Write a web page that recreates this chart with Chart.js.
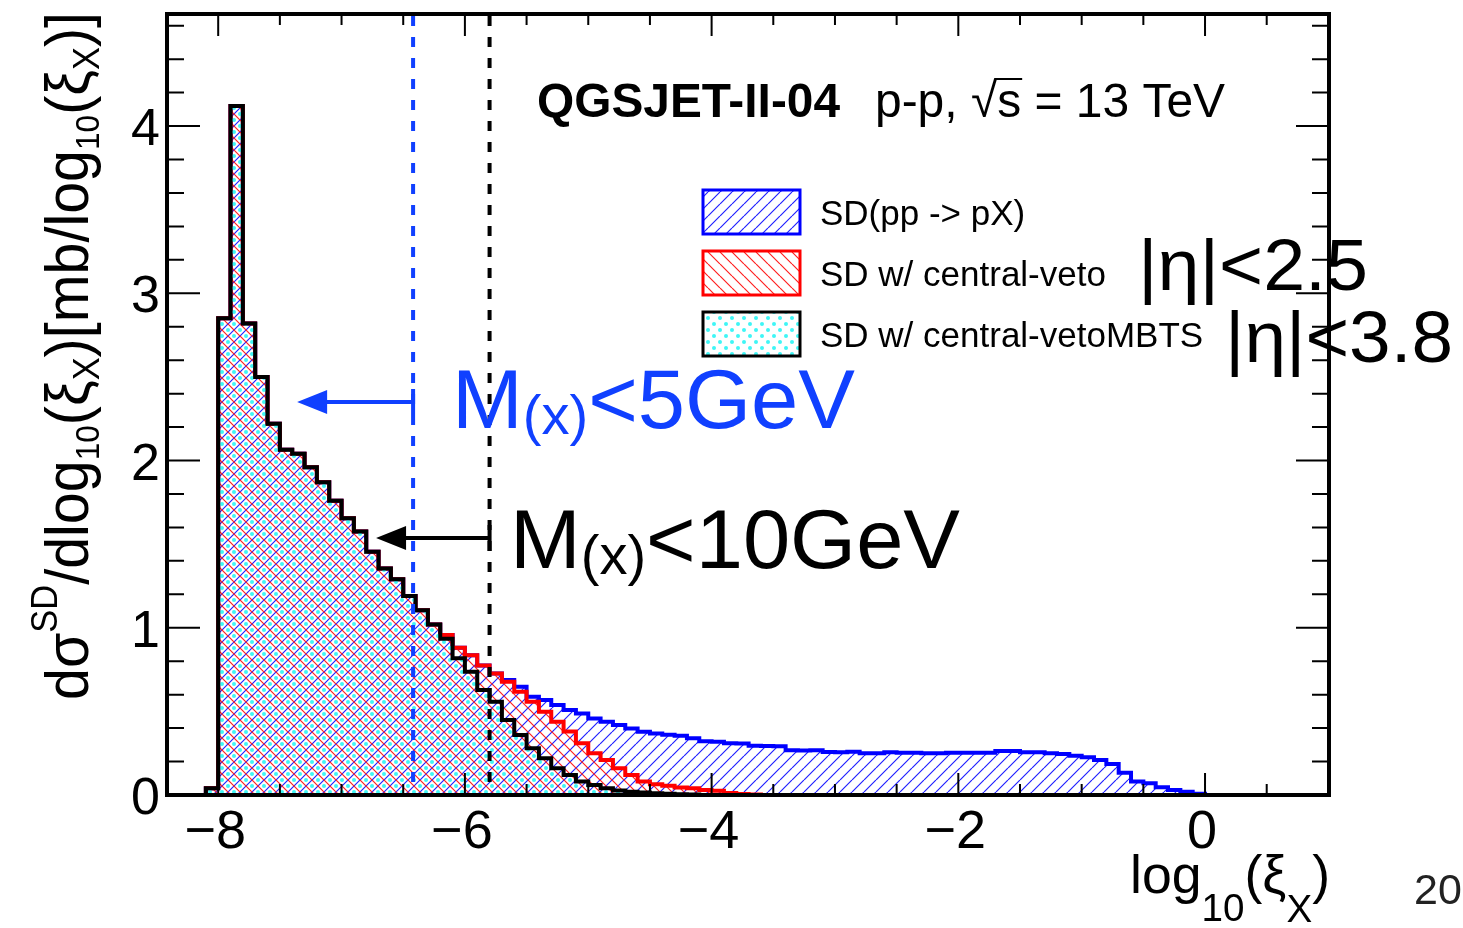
<!DOCTYPE html>
<html>
<head>
<meta charset="utf-8">
<script src="https://cdn.jsdelivr.net/npm/chart.js@4.4.0/dist/chart.umd.min.js"></script>
<style>
  html, body { margin: 0; padding: 0; background: #fff; }
  canvas { display: block; }
</style>
</head>
<body>
<canvas id="c" width="1463" height="928"></canvas>
<script>
// histogram binning (left edge of first bin, bin width in log10(xi))
const binStart = -8.4;
const binWidth = 0.1;

// SD(pp -> pX), one value per bin from -8.4
const sdAll = [
  0, 0, 0, 0.04, 2.85, 4.12, 2.82, 2.50, 2.22, 2.065,
  2.04, 1.96, 1.87, 1.76, 1.655, 1.575, 1.455, 1.355, 1.29, 1.19,
  1.105, 1.02, 0.956, 0.88, 0.835, 0.775, 0.727, 0.687, 0.647, 0.588,
  0.568, 0.538, 0.508, 0.488, 0.458, 0.438, 0.418, 0.398, 0.378, 0.368,
  0.36, 0.355, 0.339, 0.322, 0.318, 0.31, 0.308, 0.295, 0.293, 0.292,
  0.268, 0.266, 0.268, 0.257, 0.255, 0.258, 0.25, 0.249, 0.255, 0.252,
  0.252, 0.25, 0.25, 0.252, 0.253, 0.253, 0.253, 0.263, 0.263, 0.255,
  0.255, 0.25, 0.245, 0.235, 0.225, 0.209, 0.185, 0.133, 0.08, 0.07,
  0.046, 0.03, 0.02, 0.008, 0, 0, 0, 0, 0, 0,
  0, 0, 0, 0
];

// SD w/ central-veto (|eta|<2.5)
const sdVeto = [
  0, 0, 0, 0.04, 2.85, 4.12, 2.82, 2.50, 2.22, 2.065,
  2.04, 1.96, 1.87, 1.76, 1.655, 1.575, 1.455, 1.355, 1.29, 1.19,
  1.105, 1.02, 0.956, 0.88, 0.835, 0.775, 0.727, 0.677, 0.618, 0.558,
  0.498, 0.438, 0.379, 0.309, 0.249, 0.209, 0.16, 0.12, 0.08, 0.065,
  0.055, 0.045, 0.04, 0.03, 0.025, 0.012, 0.006, 0.003, 0, 0
];

// SD w/ central-vetoMBTS (|eta|<3.8)
const sdVetoMBTS = [
  0, 0, 0, 0.04, 2.85, 4.12, 2.82, 2.50, 2.22, 2.065,
  2.04, 1.96, 1.87, 1.76, 1.655, 1.575, 1.455, 1.355, 1.29, 1.19,
  1.105, 1.02, 0.935, 0.817, 0.737, 0.628, 0.558, 0.448, 0.359, 0.279,
  0.219, 0.16, 0.12, 0.08, 0.06, 0.04, 0.027, 0.02, 0.015, 0.01,
  0.008, 0.005, 0.003, 0, 0, 0, 0, 0, 0, 0
];

const seriesNames = ['SD(pp -> pX)', 'SD w/ central-veto', 'SD w/ central-vetoMBTS'];
const xTickValues = [-8, -6, -4, -2, 0];
const yTickValues = [0, 1, 2, 3, 4];

// mass cuts, arrows (log10(xi) positions)
const massCut5 = -6.42;
const massCut10 = -5.80;
const arrow5 = { from: -6.42, to: -7.36, y: 2.35 };
const arrow10 = { from: -5.80, to: -6.72, y: 1.536 };

const FONT = '"Liberation Sans", Arial, Helvetica, sans-serif';
const ANNOT_BLUE = '#1040ff';
const TILE = 12;

function toSteps(values) {
  const pts = values.map((v, i) => ({ x: +(binStart + i * binWidth).toFixed(2), y: v }));
  pts.push({ x: +(binStart + values.length * binWidth).toFixed(2), y: 0 });
  return pts;
}

function hatch(color, slash) {
  const c = document.createElement('canvas');
  c.width = c.height = TILE;
  const g = c.getContext('2d');
  g.strokeStyle = color;
  g.lineWidth = 1.2;
  g.beginPath();
  for (let k = -1; k <= 1; k++) {
    if (slash) {
      g.moveTo(k * TILE, TILE);
      g.lineTo(k * TILE + TILE, 0);
    } else {
      g.moveTo(k * TILE, 0);
      g.lineTo(k * TILE + TILE, TILE);
    }
  }
  g.stroke();
  return g.createPattern(c, 'repeat');
}

// dots sit in the middle of the cross-hatch cells
function dots(color) {
  const c = document.createElement('canvas');
  c.width = c.height = TILE;
  const g = c.getContext('2d');
  g.fillStyle = color;
  const h = TILE / 2;
  [[h, 0], [h, TILE], [0, h], [TILE, h]].forEach(([x, y]) => {
    g.beginPath();
    g.arc(x, y, 2, 0, Math.PI * 2);
    g.fill();
  });
  return g.createPattern(c, 'repeat');
}

const patBlue = hatch('#2222ff', true);
const patRed = hatch('#ff2020', false);
const patCyan = dots('#3ff6f6');

// text with sub/superscript parts: [text, sizeFactor, dyFactor]
function richText(ctx, parts, x, y, o) {
  const F = o.size;
  const weight = o.bold ? 'bold ' : '';
  const w = parts.map(p => {
    ctx.font = weight + (p[1] * F) + 'px ' + FONT;
    return ctx.measureText(p[0]).width;
  });
  const total = w.reduce((s, v) => s + v, 0);
  const sx = o.fit ? o.fit / total : 1;
  ctx.save();
  ctx.translate(x, y);
  if (o.rot) ctx.rotate(o.rot);
  ctx.scale(sx, 1);
  ctx.fillStyle = o.color || '#000';
  ctx.textAlign = 'left';
  ctx.textBaseline = 'alphabetic';
  let cx = o.align === 'right' ? -total : o.align === 'center' ? -total / 2 : 0;
  const starts = [];
  parts.forEach((p, i) => {
    ctx.font = weight + (p[1] * F) + 'px ' + FONT;
    starts.push(cx);
    ctx.fillText(p[0], cx, (p[2] || 0) * F);
    cx += w[i];
  });
  ctx.restore();
  return { sx, starts, widths: w, total };
}

function drawArrow(ctx, xs, ys, a, color, headLen, headHalf) {
  const x0 = xs.getPixelForValue(a.from);
  const x1 = xs.getPixelForValue(a.to);
  const yp = ys.getPixelForValue(a.y);
  ctx.save();
  ctx.strokeStyle = color;
  ctx.fillStyle = color;
  ctx.lineWidth = 4;
  ctx.beginPath();
  ctx.moveTo(x0, yp);
  ctx.lineTo(x1 + headLen - 2, yp);
  ctx.moveTo(x0, yp - 13);
  ctx.lineTo(x0, yp + 13);
  ctx.stroke();
  ctx.beginPath();
  ctx.moveTo(x1, yp);
  ctx.lineTo(x1 + headLen, yp - headHalf);
  ctx.lineTo(x1 + headLen, yp + headHalf);
  ctx.closePath();
  ctx.fill();
  ctx.restore();
}

const rootDecor = {
  id: 'rootDecor',
  afterDatasetsDraw(chart) {
    const { ctx, chartArea: a, scales: { x: xs, y: ys } } = chart;

    // dashed mass-cut lines
    [[massCut5, ANNOT_BLUE], [massCut10, '#000']].forEach(([v, col]) => {
      const px = xs.getPixelForValue(v);
      ctx.save();
      ctx.strokeStyle = col;
      ctx.lineWidth = 4;
      ctx.setLineDash([10, 11]);
      ctx.beginPath();
      ctx.moveTo(px, a.top + 2);
      ctx.lineTo(px, a.bottom);
      ctx.stroke();
      ctx.restore();
    });

    drawArrow(ctx, xs, ys, arrow5, ANNOT_BLUE, 30, 12);
    drawArrow(ctx, xs, ys, arrow10, '#000', 30, 12);

    // frame + inside ticks (ROOT style)
    ctx.save();
    ctx.strokeStyle = '#000';
    ctx.lineWidth = 2;
    ctx.beginPath();
    for (let k = 0; k * 0.2 <= ys.max + 1e-9; k++) {
      const py = ys.getPixelForValue(k * 0.2);
      const len = k % 5 === 0 ? 33 : 17;
      ctx.moveTo(a.left, py); ctx.lineTo(a.left + len, py);
      ctx.moveTo(a.right, py); ctx.lineTo(a.right - len, py);
    }
    for (let k = -17; k * 0.5 <= xs.max; k++) {
      const v = k * 0.5;
      if (v < xs.min) continue;
      const px = xs.getPixelForValue(v);
      const len = k % 4 === 0 ? 22 : 11;
      ctx.moveTo(px, a.bottom); ctx.lineTo(px, a.bottom - len);
      ctx.moveTo(px, a.top); ctx.lineTo(px, a.top + len);
    }
    ctx.stroke();
    ctx.lineWidth = 4;
    ctx.strokeRect(a.left, a.top, a.right - a.left, a.bottom - a.top);
    ctx.restore();

    // tick labels
    ctx.save();
    ctx.fillStyle = '#000';
    ctx.font = '52px ' + FONT;
    ctx.textAlign = 'right';
    ctx.textBaseline = 'alphabetic';
    yTickValues.forEach(v => {
      ctx.fillText(String(v), a.left - 7, ys.getPixelForValue(v) + 19);
    });
    ctx.textAlign = 'center';
    ctx.font = '54px ' + FONT;
    xTickValues.forEach(v => {
      const t = v < 0 ? '\u2212' + Math.abs(v) : String(v);
      ctx.fillText(t, xs.getPixelForValue(v) - 3, 848);
    });
    ctx.restore();

    // axis titles
    richText(ctx, [
      ['d\u03c3', 1, 0], ['SD', 0.6, -0.5], ['/dlog', 1, 0], ['10', 0.55, 0.18],
      ['(\u03be', 1, 0], ['X', 0.6, 0.18], [')[mb/log', 1, 0], ['10', 0.55, 0.18],
      ['(\u03be', 1, 0], ['X', 0.6, 0.18], [')]', 1, 0]
    ], 88, 356, { size: 62, rot: -Math.PI / 2, align: 'center', fit: 688 });

    richText(ctx, [
      ['log', 1, 0], ['10', 0.72, 0.52], ['(\u03be', 1, 0], ['X', 0.72, 0.55], [')', 1, 0]
    ], 1330, 893, { size: 53, align: 'right', fit: 200 });

    // page number
    ctx.save();
    ctx.fillStyle = '#222';
    ctx.font = '43px ' + FONT;
    ctx.textAlign = 'left';
    ctx.fillText('20', 1414, 904);
    ctx.restore();

    // header
    richText(ctx, [['QGSJET-II-04', 1, 0]], 537, 117, { size: 48, bold: true, fit: 303 });
    const hdr = richText(ctx, [['p-p, \u221a', 1, 0], ['s', 1, 0], [' = 13 TeV', 1, 0]],
      875, 117, { size: 49, fit: 350 });
    ctx.save();
    ctx.strokeStyle = '#000';
    ctx.lineWidth = 2;
    ctx.beginPath();
    const sx0 = 875 + hdr.starts[1] * hdr.sx - 2;
    const sx1 = 875 + (hdr.starts[1] + hdr.widths[1]) * hdr.sx + 1;
    ctx.moveTo(sx0, 117 - 38);
    ctx.lineTo(sx1, 117 - 38);
    ctx.stroke();
    ctx.restore();

    // legend
    const boxes = [[patBlue, '#0000ff', 190], [patRed, '#ff0000', 251], [patCyan, '#000', 312]];
    boxes.forEach(([pat, col, top], i) => {
      ctx.save();
      ctx.fillStyle = pat;
      ctx.fillRect(703, top, 97, 44);
      ctx.strokeStyle = col;
      ctx.lineWidth = 3;
      ctx.strokeRect(703, top, 97, 44);
      ctx.fillStyle = '#000';
      ctx.font = '35px ' + FONT;
      ctx.textAlign = 'left';
      ctx.textBaseline = 'alphabetic';
      ctx.fillText(seriesNames[i], 820, top + 35);
      ctx.restore();
    });

    // eta ranges
    richText(ctx, [['|\u03b7|<2.5', 1, 0]], 1138, 290, { size: 72, fit: 230 });
    richText(ctx, [['|\u03b7|<3.8', 1, 0]], 1225, 362, { size: 72, fit: 228 });

    // mass-cut labels
    richText(ctx, [['M', 1, 0], ['(x)', 0.66, 0.07], ['<5GeV', 1, 0]], 452, 428,
      { size: 84, color: ANNOT_BLUE, fit: 403 });
    richText(ctx, [['M', 1, 0], ['(x)', 0.66, 0.07], ['<10GeV', 1, 0]], 510, 568,
      { size: 84, fit: 450 });
  }
};

const ctx = document.getElementById('c').getContext('2d');
new Chart(ctx, {
  type: 'line',
  data: {
    datasets: [
      {
        label: seriesNames[2], data: toSteps(sdVetoMBTS), order: 1,
        borderColor: '#000', backgroundColor: patCyan, fill: 'origin'
      },
      {
        label: seriesNames[1], data: toSteps(sdVeto), order: 2,
        borderColor: '#ff0000', backgroundColor: patRed, fill: 'origin'
      },
      {
        label: seriesNames[0], data: toSteps(sdAll), order: 3,
        borderColor: '#0000ff', backgroundColor: patBlue, fill: 'origin'
      }
    ].map(d => Object.assign(d, {
      // 'before' = hold the bin value until the next edge, then drop/rise
      stepped: 'before', borderWidth: 4, pointRadius: 0, tension: 0,
      borderJoinStyle: 'miter', borderCapStyle: 'butt'
    }))
  },
  options: {
    responsive: false,
    animation: false,
    devicePixelRatio: 1,
    events: [],
    layout: { padding: { left: 167, right: 134, top: 14, bottom: 133 } },
    scales: {
      x: { type: 'linear', min: -8.415, max: 1.005, display: false },
      y: { type: 'linear', min: 0, max: 4.67, display: false }
    },
    plugins: {
      legend: { display: false },
      tooltip: { enabled: false }
    }
  },
  plugins: [rootDecor]
});
</script>
</body>
</html>
